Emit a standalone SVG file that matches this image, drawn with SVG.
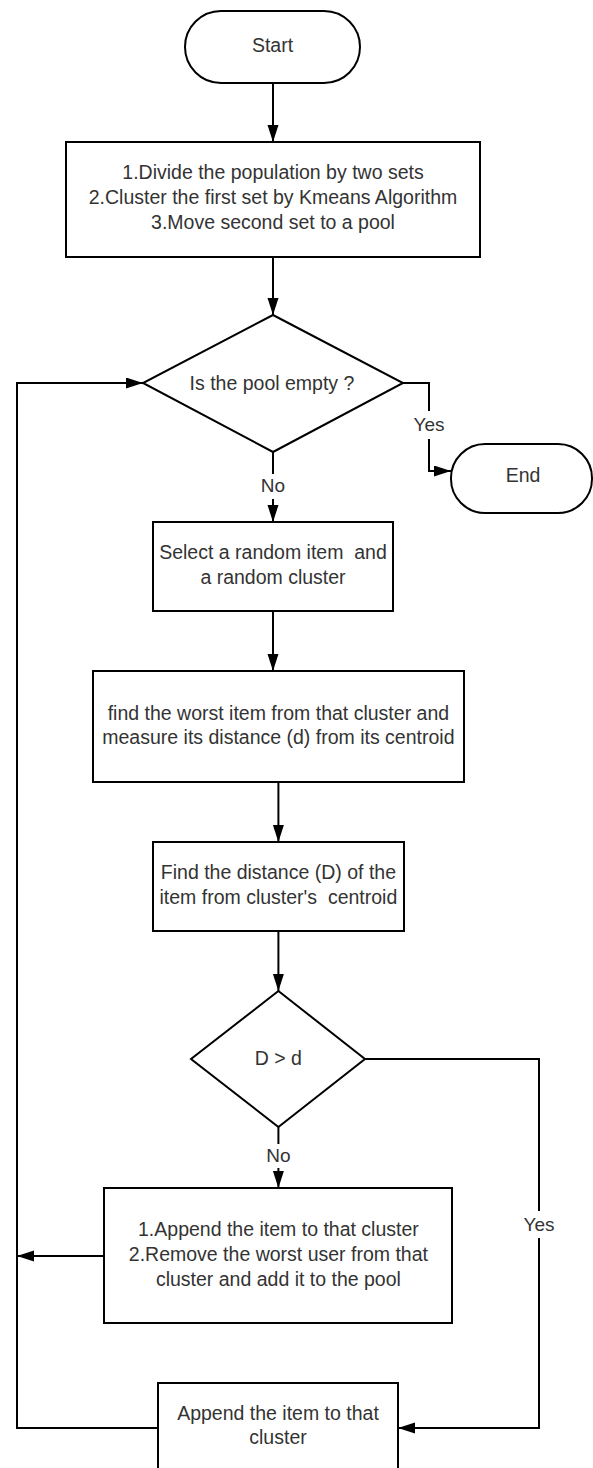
<svg xmlns="http://www.w3.org/2000/svg" width="593" height="1468" viewBox="0 0 593 1468">
<style>
.shape{fill:#ffffff;stroke:#000000;stroke-width:2}
.t{font-family:"Liberation Sans",Arial,sans-serif;font-size:19.5px;fill:#333333;text-anchor:middle;white-space:pre}
.l{font-family:"Liberation Sans",Arial,sans-serif;font-size:19px;fill:#333333;text-anchor:middle}
.c{fill:none;stroke:#000000;stroke-width:2}
</style>
<defs>
<marker id="arr" markerUnits="userSpaceOnUse" markerWidth="18" markerHeight="12" refX="17" refY="5.5" orient="auto">
<path d="M0,0 L17,5.5 L0,11 Z" fill="#000000"/>
</marker>
</defs>
<rect x="0" y="0" width="593" height="1468" fill="#ffffff"/>
<g id="connectors">
<path class="c" d="M273,83 V142" marker-end="url(#arr)"/>
<path class="c" d="M273,257 V315" marker-end="url(#arr)"/>
<path class="c" d="M403,383 H429 V411"/>
<path class="c" d="M429,439 V471 H451" marker-end="url(#arr)"/>
<path class="c" d="M273,452 V474"/>
<path class="c" d="M273,499 V522" marker-end="url(#arr)"/>
<path class="c" d="M273,611 V671" marker-end="url(#arr)"/>
<path class="c" d="M278.4,782 V842" marker-end="url(#arr)"/>
<path class="c" d="M278.4,931 V991" marker-end="url(#arr)"/>
<path class="c" d="M278.4,1127 V1144"/>
<path class="c" d="M278.4,1168 V1188" marker-end="url(#arr)"/>
<path class="c" d="M365,1059 H539 V1211"/>
<path class="c" d="M539,1238 V1428 H398" marker-end="url(#arr)"/>
<path class="c" d="M104,1256 H17" marker-end="url(#arr)"/>
<path class="c" d="M158,1428 H17 V383 H143" marker-end="url(#arr)"/>
<text class="l" x="429" y="431">Yes</text>
<text class="l" x="273" y="492">No</text>
<text class="l" x="278.4" y="1162">No</text>
<text class="l" x="539" y="1231">Yes</text>
</g>
<g id="start">
<rect class="shape" x="185" y="11" width="175" height="72" rx="36" ry="36"/>
<text class="t" x="272.5" y="52">Start</text>
</g>
<g id="init">
<rect class="shape" x="66" y="142" width="414" height="115"/>
<text class="t" x="273" y="179">1.Divide the population by two sets</text>
<text class="t" x="273" y="204">2.Cluster the first set by Kmeans Algorithm</text>
<text class="t" x="273" y="229">3.Move second set to a pool</text>
</g>
<g id="pool-empty">
<polygon class="shape" points="273,315 403,383 273,452 143,383"/>
<text class="t" x="272" y="390">Is the pool empty ?</text>
</g>
<g id="end">
<rect class="shape" x="451" y="444" width="141" height="69" rx="34" ry="34"/>
<text class="t" x="523" y="482">End</text>
</g>
<g id="select">
<rect class="shape" x="153" y="522" width="240" height="89"/>
<text class="t" x="273" y="559">Select a random item  and</text>
<text class="t" x="273" y="584">a random cluster</text>
</g>
<g id="find-worst">
<rect class="shape" x="93" y="671" width="371" height="111"/>
<text class="t" x="278.4" y="720">find the worst item from that cluster and</text>
<text class="t" x="278.4" y="744">measure its distance (d) from its centroid</text>
</g>
<g id="find-distance">
<rect class="shape" x="153" y="842" width="251" height="89"/>
<text class="t" x="278.4" y="879">Find the distance (D) of the</text>
<text class="t" x="278.4" y="904">item from cluster's  centroid</text>
</g>
<g id="compare">
<polygon class="shape" points="278.4,991 365,1059 278.4,1127 191,1059"/>
<text class="t" x="278.4" y="1065">D &gt; d</text>
</g>
<g id="swap">
<rect class="shape" x="104" y="1188" width="348" height="135"/>
<text class="t" x="278.4" y="1236">1.Append the item to that cluster</text>
<text class="t" x="278.4" y="1261">2.Remove the worst user from that</text>
<text class="t" x="278.4" y="1286">cluster and add it to the pool</text>
</g>
<g id="append">
<rect class="shape" x="158" y="1383" width="240" height="100"/>
<text class="t" x="278" y="1420">Append the item to that</text>
<text class="t" x="278" y="1444">cluster</text>
</g>
</svg>
